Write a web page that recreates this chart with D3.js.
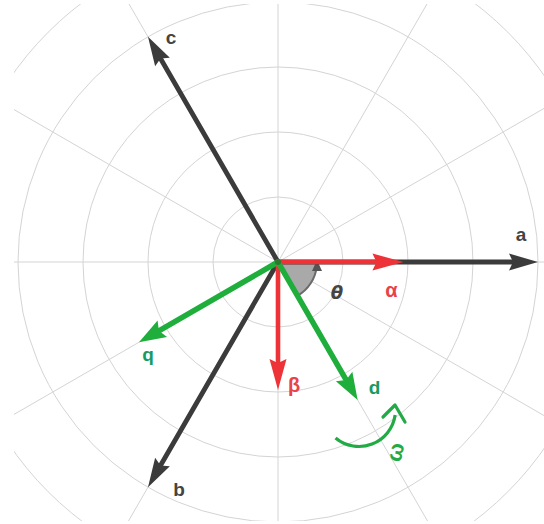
<!DOCTYPE html>
<html><head><meta charset="utf-8">
<script src="https://cdn.jsdelivr.net/npm/d3@7/dist/d3.min.js"></script>
<style>html,body{margin:0;padding:0;background:#fff;}svg{display:block;}</style>
</head><body>
<script>
// ---- data ----
const rings = [1, 2, 3, 4, 5];                 // ring radii (grid units)
const spokeAngles = d3.range(0, 360, 30);      // radial grid lines (deg)
const vectorNames = ["a", "b", "c", "α", "β", "q", "d"];
const vectorAngles = [0, 240, 120, 0, 270, 210, 300];   // deg, counter-clockwise from +x
const vectorMagnitudes = [4, 4, 4, 1.93, 1.97, 2.47, 2.45];
const thetaAngle = -60;                         // θ from α to d (deg)

// ---- layout ----
const W = 544, H = 524, cx = 278, cy = 262;
const r = d3.scaleLinear().domain([0, 5]).range([0, 325]);
const colorOf = d3.scaleOrdinal()
  .domain(vectorNames)
  .range(["#3b3b3b", "#3b3b3b", "#3b3b3b", "#ee3338", "#ee3338", "#1fae3c", "#1fae3c"]);
const labelColor = d3.scaleOrdinal()
  .domain(vectorNames)
  .range(["#444", "#444", "#444", "#e8424a", "#e8424a", "#1a9a63", "#1a9a63"]);
const labelOffset = {a: [-17, -28], b: [31, 2], c: [23, 1], "α": [-12, 28], "β": [16, -5], q: [9, 12], d: [17, -12]};

const svg = d3.select("body").append("svg").attr("width", W).attr("height", H);
svg.append("defs").append("clipPath").attr("id", "gclip")
  .append("rect").attr("x", 14).attr("y", 4).attr("width", 530).attr("height", 517);

const gridWrap = svg.append("g").attr("clip-path", "url(#gclip)");
const gg = gridWrap.append("g").attr("transform", `translate(${cx},${cy})`);
const g = svg.append("g").attr("transform", `translate(${cx},${cy})`);

gg.selectAll("circle.ring").data(rings).join("circle")
  .attr("r", d => r(d)).attr("fill", "none").attr("stroke", "#d4d4d4").attr("stroke-width", 1);
gg.selectAll("line.spoke").data(spokeAngles).join("line")
  .attr("x1", 0).attr("y1", 0)
  .attr("x2", d => r(6) * Math.cos(d * Math.PI / 180))
  .attr("y2", d => -r(6) * Math.sin(d * Math.PI / 180))
  .attr("stroke", "#d4d4d4").attr("stroke-width", 1);

// θ sector
const arcGen = d3.arc();
const rad = a => a * Math.PI / 180;
g.append("path")
  .attr("d", arcGen({innerRadius: 0, outerRadius: 39, startAngle: rad(90), endAngle: rad(90 - thetaAngle)}))
  .attr("fill", "#a9a9a9").attr("stroke", "none");
g.append("path")
  .attr("d", arcGen({innerRadius: 38, outerRadius: 40, startAngle: rad(96), endAngle: rad(90 - thetaAngle)}))
  .attr("fill", "#6a6a6a");
g.append("path").attr("d", "M39,-2 L34,9 L44,9 Z").attr("fill", "#555");

const vectors = vectorNames.map((n, i) => ({name: n, ang: vectorAngles[i], mag: vectorMagnitudes[i]}));
const headLen = n => (n === "α" || n === "β") ? 31 : (n === "d" || n === "q") ? 27 : 29;
const headW = n => (n === "d" || n === "q") ? 9.5 : 8.5;
const lineW = n => (n === "d" || n === "q") ? 5.5 : (n === "α" || n === "β") ? 4.6 : 4.8;

const vg = g.selectAll("g.vec").data(vectors).join("g")
  .attr("transform", d => `rotate(${-d.ang})`);
vg.append("line")
  .attr("x1", 0).attr("y1", 0)
  .attr("x2", d => r(d.mag) - headLen(d.name) + 4).attr("y2", 0)
  .attr("stroke", d => colorOf(d.name)).attr("stroke-width", d => lineW(d.name))
  .attr("stroke-linecap", "round");
vg.append("path")
  .attr("d", d => {
    const L = r(d.mag), h = headLen(d.name), w = headW(d.name);
    return `M${L},0 L${L - h},${-w} L${L - h + 4},0 L${L - h},${w} Z`;
  })
  .attr("fill", d => colorOf(d.name));

g.append("circle").attr("r", 3).attr("fill", "#2a7a2a");

// labels
g.selectAll("text.vlab").data(vectors).join("text")
  .attr("x", d => r(d.mag) * Math.cos(rad(d.ang)) + labelOffset[d.name][0])
  .attr("y", d => -r(d.mag) * Math.sin(rad(d.ang)) + labelOffset[d.name][1])
  .attr("text-anchor", "middle").attr("dominant-baseline", "central")
  .attr("font-family", "Liberation Sans, Arial, sans-serif").attr("font-weight", "bold")
  .attr("font-size", d => (d.name === "α" || d.name === "β") ? 20 : 19)
  .attr("fill", d => labelColor(d.name))
  .text(d => d.name);

g.append("text").attr("x", 59).attr("y", 30)
  .attr("text-anchor", "middle").attr("dominant-baseline", "central")
  .attr("font-family", "DejaVu Sans, sans-serif").attr("font-weight", "bold").attr("font-style", "italic")
  .attr("font-size", 18).attr("fill", "#444").text("θ");

// ω rotation arrow
const wc = [81, 148], wr = 36.5;
g.append("path")
  .attr("d", arcGen({innerRadius: wr - 1.6, outerRadius: wr + 1.6, startAngle: rad(220), endAngle: rad(98)}))
  .attr("transform", `translate(${wc[0]},${wc[1]})`)
  .attr("fill", "#22aa44");
g.append("path")
  .attr("d", "M105,155 L117,143 L127,160")
  .attr("fill", "none").attr("stroke", "#22aa44").attr("stroke-width", 3.2).attr("stroke-linecap", "round").attr("stroke-linejoin", "round");
g.append("text")
  .attr("transform", "translate(117,190) rotate(-78)")
  .attr("text-anchor", "middle").attr("dominant-baseline", "central")
  .attr("font-family", "Liberation Sans, Arial, sans-serif").attr("font-weight", "bold").attr("font-size", 22)
  .attr("fill", "#22aa44").text("ω");
</script>
</body></html>
